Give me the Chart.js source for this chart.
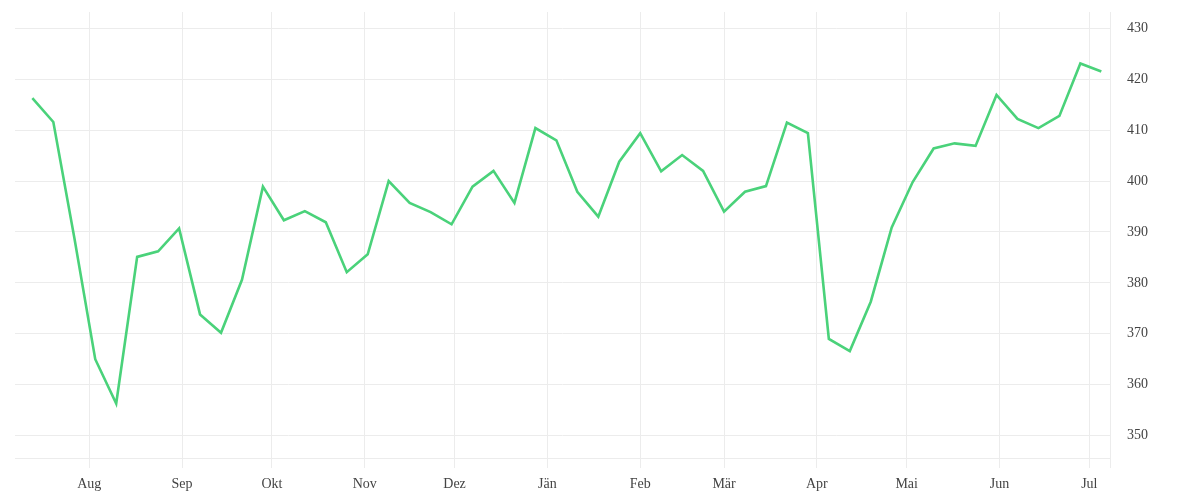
<!DOCTYPE html>
<html>
<head>
<meta charset="utf-8">
<script src="https://cdn.jsdelivr.net/npm/chart.js@4.4.1/dist/chart.umd.min.js"></script>
<style>
  html, body { margin: 0; padding: 0; background: #fff; }
  #wrap { width: 1200px; height: 500px; position: relative; }
</style>
</head>
<body>
<div id="wrap"><canvas id="weeklyChart"></canvas></div>
<script>
// weekly dates (categories)
var dates = [
  "2024-07-13", "2024-07-20", "2024-07-27", "2024-08-03", "2024-08-10", "2024-08-17",
  "2024-08-24", "2024-08-31", "2024-09-07", "2024-09-14", "2024-09-21", "2024-09-28",
  "2024-10-05", "2024-10-12", "2024-10-19", "2024-10-26", "2024-11-02", "2024-11-09",
  "2024-11-16", "2024-11-23", "2024-11-30", "2024-12-07", "2024-12-14", "2024-12-21",
  "2024-12-28", "2025-01-04", "2025-01-11", "2025-01-18", "2025-01-25", "2025-02-01",
  "2025-02-08", "2025-02-15", "2025-02-22", "2025-03-01", "2025-03-08", "2025-03-15",
  "2025-03-22", "2025-03-29", "2025-04-05", "2025-04-12", "2025-04-19", "2025-04-26",
  "2025-05-03", "2025-05-10", "2025-05-17", "2025-05-24", "2025-05-31", "2025-06-07",
  "2025-06-14", "2025-06-21", "2025-06-28", "2025-07-05"
];

var values = [
  416.3, 411.6, 388.9, 365.0, 356.3, 385.1, 386.2, 390.7, 373.8, 370.2,
  380.6, 398.9, 392.3, 394.1, 391.9, 382.1, 385.6, 400.0, 395.7, 393.9,
  391.5, 398.9, 402.0, 395.7, 410.4, 408.0, 397.9, 393.0, 403.8, 409.4,
  401.9, 405.1, 402.0, 394.0, 397.9, 399.0, 411.5, 409.4, 369.0, 366.6,
  376.3, 390.9, 399.8, 406.4, 407.4, 406.9, 416.9, 412.2, 410.4, 412.8,
  423.1, 421.5
];

// month ticks on the x axis
var monthStarts = ["2024-08-01", "2024-09-01", "2024-10-01", "2024-11-01", "2024-12-01", "2025-01-01",
  "2025-02-01", "2025-03-01", "2025-04-01", "2025-05-01", "2025-06-01", "2025-07-01"];
var monthLabels = ["Aug", "Sep", "Okt", "Nov", "Dez", "Jän", "Feb", "Mär", "Apr", "Mai", "Jun", "Jul"];

var yTicks = [350, 360, 370, 380, 390, 400, 410, 420, 430];

// days since 1 Aug 2024 (no date adapter available)
var origin = Date.UTC(2024, 7, 1);
function dayNum(s) {
  var p = s.split("-");
  return Math.round((Date.UTC(+p[0], +p[1] - 1, +p[2]) - origin) / 86400000);
}

var points = dates.map(function (d, i) {
  return { x: dayNum(d), y: values[i] };
});
var monthDays = monthStarts.map(dayNum);

var xMin = -24.8, xMax = 340.9;
var gridColor = "#ececec";
var textColor = "#444";
var font = { family: "'Liberation Serif', serif", size: 14 };

var ctx = document.getElementById("weeklyChart").getContext("2d");

new Chart(ctx, {
  type: "line",
  data: {
    datasets: [
      {
        data: points,
        borderColor: "#4ad27a",
        borderWidth: 2.6,
        fill: false,
        tension: 0,
        pointRadius: 0,
        pointHoverRadius: 0,
      },
    ],
  },
  options: {
    responsive: true,
    maintainAspectRatio: false,
    animation: false,
    layout: { padding: { left: 15, top: 12, right: 0, bottom: 0 } },
    plugins: {
      legend: { display: false },
      tooltip: { enabled: false },
    },
    scales: {
      x: {
        type: "linear",
        min: xMin,
        max: xMax,
        grid: { color: gridColor, tickColor: gridColor, tickLength: 10, lineWidth: 1 },
        border: { color: gridColor },
        afterBuildTicks: function (scale) {
          // month starts plus the right edge (draws the closing line)
          scale.ticks = monthDays.map(function (v) { return { value: v }; });
          scale.ticks.push({ value: xMax });
        },
        afterFit: function (scale) {
          scale.height = 42;
          scale.paddingLeft = 0;
          scale.paddingRight = 0;
        },
        ticks: {
          autoSkip: false,
          maxRotation: 0,
          padding: 8,
          color: textColor,
          font: font,
          callback: function (value) {
            var i = monthDays.indexOf(value);
            return i >= 0 ? monthLabels[i] : "";
          },
        },
      },
      y: {
        position: "right",
        min: 345.6,
        max: 433.2,
        grid: { color: gridColor, drawTicks: false },
        border: { display: false },
        afterBuildTicks: function (scale) {
          scale.ticks = yTicks.map(function (v) { return { value: v }; });
        },
        afterFit: function (scale) {
          scale.width = 90;
          scale.paddingTop = 0;
          scale.paddingBottom = 0;
        },
        ticks: {
          padding: 17,
          color: textColor,
          font: font,
        },
      },
    },
  },
});
</script>
</body>
</html>
